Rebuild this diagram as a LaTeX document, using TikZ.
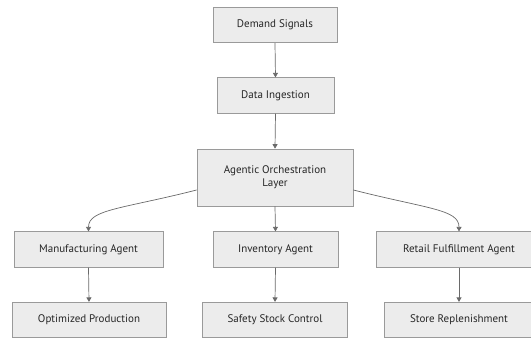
\documentclass[tikz,border=0pt]{standalone}
\usepackage{fontspec}
\setmainfont{PT Sans}
\usetikzlibrary{arrows.meta,calc}
\definecolor{boxfill}{HTML}{ECECEC}
\definecolor{boxline}{HTML}{9A9A9A}
\definecolor{edgeline}{HTML}{6A6A6A}
\definecolor{labeltext}{HTML}{262626}
\begin{document}
\begin{tikzpicture}[x=1pt,y=-1pt,
  proc/.style={draw=boxline,fill=boxfill,line width=0.7pt,inner sep=0pt,
    minimum height=35.5pt,text=labeltext,font=\fontsize{11}{13}\selectfont,align=center},
  flow/.style={draw=edgeline,line width=0.7pt,-{Triangle[length=4.5pt,width=5pt]}}]
\useasboundingbox (0,0) rectangle (531,338);
\begin{scope}
\clip (0,0) rectangle (531,338);
% pipeline spine
\node[proc,minimum width=124pt] (demand) at (275,25) {Demand Signals};
\node[proc,minimum width=117pt] (ingest) at (275.5,95.5) {Data Ingestion};
\node[proc,minimum width=156pt,minimum height=57pt] (orch) at (275,177.5) {Agentic Orchestration\\Layer};
% agents
\node[proc,minimum width=149pt] (mfg) at (88.5,249.5) {Manufacturing Agent};
\node[proc,minimum width=125pt] (inv) at (275.5,249.5) {Inventory Agent};
\node[proc,minimum width=166pt] (retail) at (459,249.5) {Retail Fulfillment Agent};
% outcomes
\node[proc,minimum width=154pt] (opt) at (89,320) {Optimized Production};
\node[proc,minimum width=145pt] (safety) at (275,320) {Safety Stock Control};
\node[proc,minimum width=150pt] (store) at (459,320) {Store Replenishment};
% connectors
\draw[flow] (demand.south) -- (ingest.north);
\draw[flow] (ingest.south) -- (orch.north);
\draw[flow] (orch.south) -- (inv.north);
\draw[flow] ($(orch.west)+(0,12.5)$) .. controls +(-75,19) and +(0,-22) .. (mfg.north);
\draw[flow] ($(orch.east)+(0,12.5)$) .. controls +(75,19) and +(0,-22) .. (retail.north);
\draw[flow] (mfg.south) -- (opt.north);
\draw[flow] (inv.south) -- (safety.north);
\draw[flow] (retail.south) -- (store.north);
\end{scope}
\end{tikzpicture}
\end{document}
